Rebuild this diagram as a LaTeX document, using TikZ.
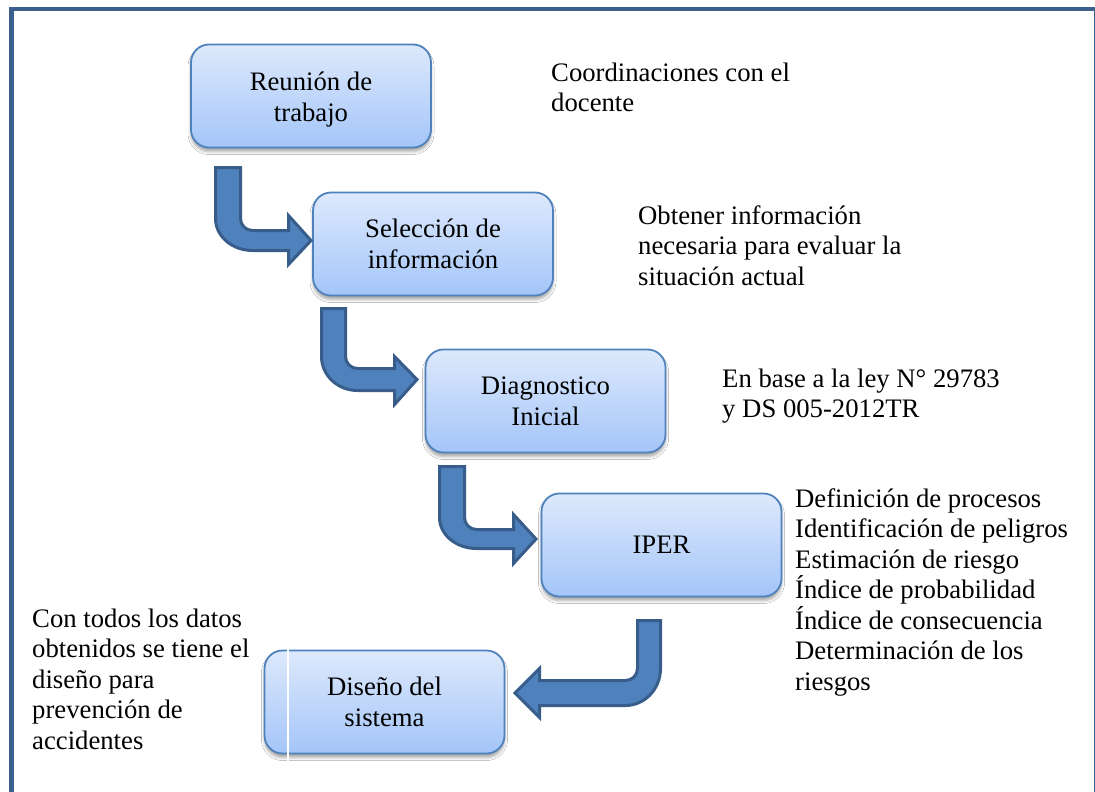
\documentclass[tikz,border=0pt]{standalone}
\usepackage{fontspec}
\setmainfont{Liberation Serif}
\usetikzlibrary{shadows.blur}
\definecolor{framecol}{HTML}{3B608D}
\definecolor{boxtop}{HTML}{DDE9FC}
\definecolor{boxbot}{HTML}{A4C5F9}
\definecolor{boxline}{HTML}{4F81BD}
\definecolor{arrfill}{HTML}{4F81BD}
\definecolor{arrline}{HTML}{385D8A}
% block arrow going down then right: L R T Hi Ho B tip headtop headbottom
\newcommand\blockR[9]{%
\draw[barrow] (#1,#3) -- (#2,#3) -- (#2,{#4-12}) .. controls (#2,{#4-5.37}) and ({#2+5.37},#4) .. ({#2+12},#4) -- (#6,#4) -- (#6,#8) -- (#7,{(#4+#5)/2}) -- (#6,#9) -- (#6,#5) -- ({#2+12},#5) .. controls ({#2+12-0.5523*(#2+12-#1)},#5) and (#1,{#4-12+0.5523*(#5-#4+12)}) .. (#1,{#4-12}) -- cycle;}
% block arrow going down then left
\newcommand\blockL[9]{%
\draw[barrow] (#1,#3) -- (#2,#3) -- (#2,{#4-12}) .. controls (#2,{#4-12+0.5523*(#5-#4+12)}) and ({#1-12+0.5523*(#2-#1+12)},#5) .. ({#1-12},#5) -- (#6,#5) -- (#6,#9) -- (#7,{(#4+#5)/2}) -- (#6,#8) -- (#6,#4) -- ({#1-12},#4) .. controls ({#1-5.37},#4) and (#1,{#4-5.37}) .. (#1,{#4-12}) -- cycle;}
\begin{document}
\begin{tikzpicture}[x=1pt,y=-1pt,
  stepbox/.style={draw=boxline, line width=1.8pt, rounded corners=18pt,
    top color=boxtop, bottom color=boxbot, minimum width=240pt, minimum height=103pt,
    inner sep=0pt, align=center, font=\fontsize{26.7}{31}\selectfont,
    blur shadow={shadow xshift=0pt, shadow yshift=-4pt, shadow blur radius=3pt, shadow opacity=35}},
  note/.style={anchor=base west, inner sep=0pt, align=left, font=\fontsize{26.7}{30.5}\selectfont},
  barrow/.style={fill=arrfill, draw=arrline, line width=3pt, line join=miter}]
\useasboundingbox (0,0) rectangle (1095,792);
\fill[white] (0,0) rectangle (1095,792);
\draw[framecol, line width=4.5pt] (11.5,800) -- (11.5,9) -- (1096.5,9) -- (1096.5,800);

\node[stepbox] (b1) at (311,96) {\rule{0pt}{26pt}Reunión de\\trabajo};
\node[stepbox] (b2) at (433,244) {Selección de\\información};
\node[stepbox] (b3) at (545.5,401) {Diagnostico\\Inicial};
\node[stepbox] (b4) at (661.5,545) {IPER};
\node[stepbox] (b5) at (384.5,702) {Diseño del\\sistema};
\draw[white, line width=1.2pt] (288,648) -- (288,763);

\blockR{215.5}{240.5}{167.5}{230.5}{250.5}{288.5}{311}{215.5}{264.5}
\blockR{321.5}{345.5}{308.5}{368.5}{390.5}{394.5}{417}{356.5}{404.5}
\blockR{439.5}{464.5}{466.5}{529.5}{548.5}{513.5}{536}{514.5}{563.5}
\blockL{637.5}{660.5}{620.5}{680.5}{705.5}{539.5}{515}{668.5}{717.5}

% base west = baseline of the last line
\node[note] (n1) at (551,111.5) {Coordinaciones con el\\docente};
\node[note] (n2) at (638,285) {Obtener información\\necesaria para evaluar la\\situación actual};
\node[note] (n3) at (722,417.5) {En base a la ley N° 29783\\y DS 005-2012TR};
\node[note] (n4) at (795,690) {Definición de procesos\\Identificación de peligros\\Estimación de riesgo\\Índice de probabilidad\\Índice de consecuencia\\Determinación de los\\riesgos};
\node[note] (n5) at (32,749) {Con todos los datos\\obtenidos se tiene el\\diseño para\\prevención de\\accidentes};
\end{tikzpicture}
\end{document}
